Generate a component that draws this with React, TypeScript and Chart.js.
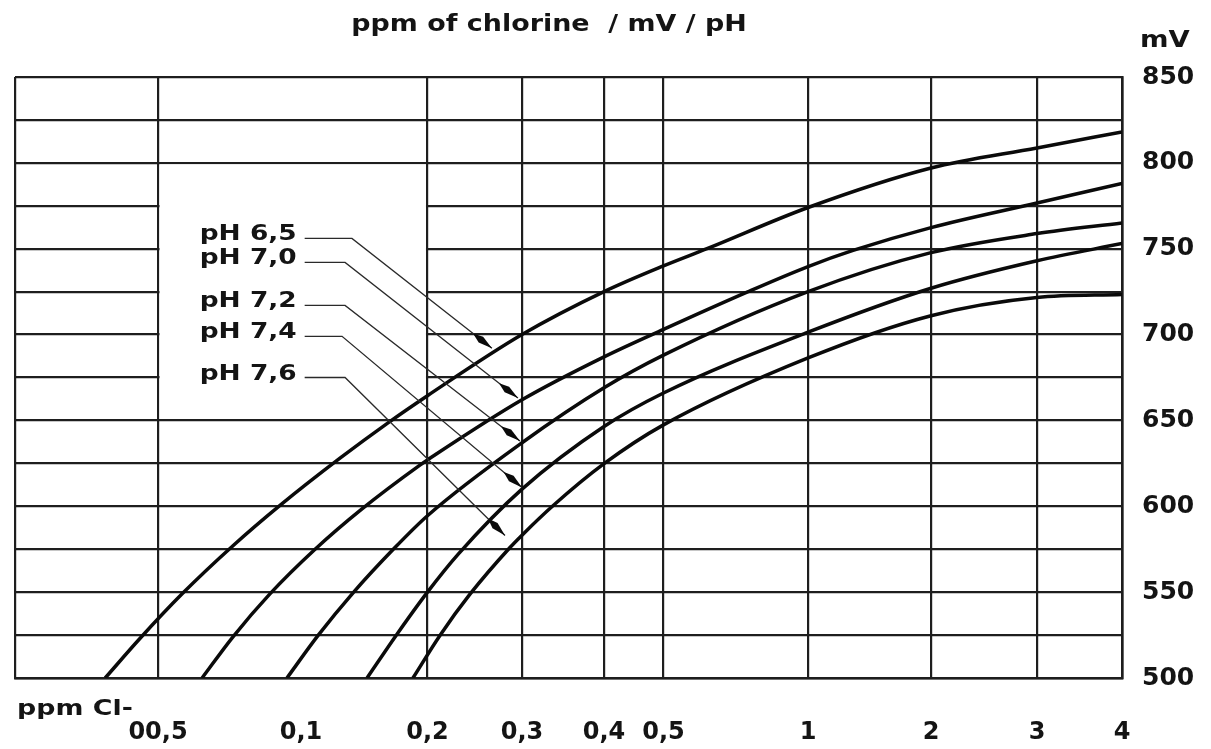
import React, { useEffect, useRef } from 'react';
import { Chart, registerables } from 'chart.js';

Chart.register(...registerables);

// ---------- text ----------
const TITLE = 'ppm of chlorine  / mV / pH';
const Y_UNIT = 'mV';
const X_UNIT = 'ppm Cl-';

// ---------- x axis (hand-drawn, piecewise logarithmic ppm scale) ----------
const X_TICK_PPM = [0.025, 0.05, 0.1, 0.2, 0.3, 0.4, 0.5, 1, 2, 3, 4];
const X_TICK_LABELS = ['', '00,5', '0,1', '0,2', '0,3', '0,4', '0,5', '1', '2', '3', '4'];
const X_TICK_FRACTION = [0, 0.1292, 0.2584, 0.3726, 0.458, 0.5321, 0.5858, 0.7164, 0.8275, 0.9232, 1];
const X_UNGRIDDED_PPM = [0.1];

// ---------- y axis ----------
const Y_MIN = 500;
const Y_MAX = 850;
const Y_GRID_STEP = 25;
const Y_LABEL_STEP = 50;

// ---------- series (ppm of chlorine -> mV) ----------
const SERIES_LABELS = ['pH 6,5', 'pH 7,0', 'pH 7,2', 'pH 7,4', 'pH 7,6'];

const PH65_PPM = [0.0387, 0.0458, 0.0562, 0.0719, 0.0903, 0.1238, 0.1611, 0.2, 0.3, 0.4, 0.5, 0.616, 1, 2, 3, 4];
const PH65_MV = [500, 523, 549, 577, 600.5, 628, 648.6, 664.4, 700, 725, 740, 750, 774, 797, 808.7, 818];

const PH70_PPM = [0.0619, 0.0719, 0.086, 0.108, 0.1397, 0.1919, 0.2, 0.3, 0.4, 0.5, 0.7464, 1, 1.2888, 2, 3, 4];
const PH70_MV = [500, 524, 549, 575, 598.5, 624, 627, 662, 687, 703, 724.7, 739.6, 749, 762.3, 776.6, 788];

const PH72_PPM = [0.0934, 0.1098, 0.133, 0.1656, 0.2, 0.3, 0.4, 0.5, 1, 2, 3, 4];
const PH72_MV = [500, 524.8, 549.6, 574.8, 594.5, 637, 669, 688, 725, 747.7, 758.8, 765];

const PH74_PPM = [0.1436, 0.1692, 0.2, 0.228, 0.3, 0.4, 0.5, 1, 2, 3, 4];
const PH74_MV = [500, 525.5, 550, 572, 610, 646.5, 666, 701.4, 727, 743, 753];

const PH76_PPM = [0.1847, 0.211, 0.24, 0.2849, 0.3, 0.3344, 0.4, 0.5, 1, 2, 3, 4];
const PH76_MV = [500, 524.8, 548.8, 576, 583.2, 600.3, 624.8, 647.4, 686.4, 711, 721.6, 723.3];

// ---------- callout annotations (data coordinates) ----------
const LABEL_MV = [756, 742, 717, 699, 675];
const LEADER_START_PPM = 0.102;
const LEADER_KNEE_PPM = [0.1322, 0.1273, 0.1273, 0.1252, 0.1273];
const ARROW_TIP_PPM = [0.2637, 0.2948, 0.2974, 0.3, 0.2789];
const ARROW_TIP_MV = [692, 663, 638, 611, 583];
const BLANK_BOX_PPM = [0.05, 0.2];
const BLANK_BOX_MV = [800, 650];

// ---------- styles ----------
const FONT = '"DejaVu Sans", "Liberation Sans", sans-serif';
const INK = '#141414';
const GRID = '#1e1e1e';

function warp(ppm: number): number {
  const n = X_TICK_PPM.length;
  let i = 0;
  while (i < n - 2 && ppm > X_TICK_PPM[i + 1]) i++;
  const p0 = X_TICK_PPM[i];
  const p1 = X_TICK_PPM[i + 1];
  const t = Math.log(ppm / p0) / Math.log(p1 / p0);
  return X_TICK_FRACTION[i] + t * (X_TICK_FRACTION[i + 1] - X_TICK_FRACTION[i]);
}

function toPoints(ppm: number[], mv: number[]) {
  return ppm.map((p, i) => ({ x: warp(p), y: mv[i] }));
}

function stretchedText(
  ctx: CanvasRenderingContext2D,
  text: string,
  x: number,
  y: number,
  size: number,
  align: CanvasTextAlign,
  sx: number
) {
  ctx.save();
  ctx.font = `bold ${size}px ${FONT}`;
  ctx.fillStyle = INK;
  ctx.textAlign = align;
  ctx.textBaseline = 'alphabetic';
  ctx.translate(x, y);
  ctx.scale(sx, 1);
  ctx.fillText(text, 0, 0);
  ctx.restore();
}

const decorPlugin = {
  id: 'decor',
  beforeDatasetsDraw(chart: any) {
    const { ctx, scales } = chart;
    const xs = scales.x;
    const ys = scales.y;
    const x1 = xs.getPixelForValue(warp(BLANK_BOX_PPM[0])) + 1.5;
    const x2 = xs.getPixelForValue(warp(BLANK_BOX_PPM[1])) - 1.5;
    const y1 = ys.getPixelForValue(BLANK_BOX_MV[0]) + 1.5;
    const y2 = ys.getPixelForValue(BLANK_BOX_MV[1]) - 1.5;
    ctx.save();
    ctx.fillStyle = '#ffffff';
    ctx.fillRect(x1, y1, x2 - x1, y2 - y1);
    ctx.restore();
  },
  afterDatasetsDraw(chart: any) {
    const { ctx, scales, chartArea } = chart;
    const xs = scales.x;
    const ys = scales.y;
    const xStart = xs.getPixelForValue(warp(LEADER_START_PPM));
    SERIES_LABELS.forEach((label, i) => {
      const y = ys.getPixelForValue(LABEL_MV[i]);
      const xk = xs.getPixelForValue(warp(LEADER_KNEE_PPM[i]));
      const tx = xs.getPixelForValue(warp(ARROW_TIP_PPM[i]));
      const ty = ys.getPixelForValue(ARROW_TIP_MV[i]);
      ctx.save();
      ctx.strokeStyle = '#2a2a2a';
      ctx.lineWidth = 1.3;
      ctx.beginPath();
      ctx.moveTo(xStart, y);
      ctx.lineTo(xk, y);
      ctx.lineTo(tx, ty);
      ctx.stroke();
      const ang = Math.atan2(ty - y, tx - xk);
      const c = Math.cos(ang);
      const s = Math.sin(ang);
      const w = 3.6;
      ctx.fillStyle = '#0a0a0a';
      ctx.beginPath();
      ctx.moveTo(tx, ty);
      ctx.lineTo(tx - 14 * c + w * s, ty - 14 * s - w * c);
      ctx.lineTo(tx - 24 * c, ty - 24 * s);
      ctx.lineTo(tx - 14 * c - w * s, ty - 14 * s + w * c);
      ctx.closePath();
      ctx.fill();
      ctx.restore();
      stretchedText(ctx, label, xStart - 8, y + 2, 22, 'right', 1.2);
    });
    // title and axis units
    stretchedText(ctx, TITLE, 549, 31, 23, 'center', 1.17);
    stretchedText(ctx, Y_UNIT, chartArea.right + 18, chartArea.top - 30, 23, 'left', 1.19);
    stretchedText(ctx, X_UNIT, chartArea.left + 2, chartArea.bottom + 37, 22, 'left', 1.22);
  },
};

export default function App() {
  const canvasRef = useRef<HTMLCanvasElement | null>(null);

  useEffect(() => {
    const canvas = canvasRef.current;
    if (!canvas) return;
    const series = [
      toPoints(PH65_PPM, PH65_MV),
      toPoints(PH70_PPM, PH70_MV),
      toPoints(PH72_PPM, PH72_MV),
      toPoints(PH74_PPM, PH74_MV),
      toPoints(PH76_PPM, PH76_MV),
    ];
    const chart = new Chart(canvas, {
      type: 'line',
      data: {
        datasets: series.map((data, i) => ({
          label: SERIES_LABELS[i],
          data,
          borderColor: '#0a0a0a',
          borderWidth: 3.5,
          pointRadius: 0,
          fill: false,
          cubicInterpolationMode: 'monotone' as const,
        })),
      },
      options: {
        responsive: false,
        animation: false,
        devicePixelRatio: 1,
        layout: { padding: { left: 15, top: 77, right: 0, bottom: 0 } },
        plugins: {
          legend: { display: false },
          tooltip: { enabled: false },
          title: { display: false },
        },
        scales: {
          x: {
            type: 'linear',
            min: 0,
            max: 1,
            afterBuildTicks: (s: any) => {
              s.ticks = X_TICK_PPM.map((p) => ({ value: warp(p) }));
            },
            afterFit: (s: any) => {
              s.height = 71;
              s.paddingLeft = 0;
              s.paddingRight = 0;
            },
            ticks: {
              autoSkip: false,
              maxRotation: 0,
              minRotation: 0,
              padding: 40,
              color: INK,
              font: { family: FONT, size: 24, weight: 'bold' },
              callback: (_v: any, i: number) => X_TICK_LABELS[i],
            },
            grid: {
              color: (c: any) =>
                X_UNGRIDDED_PPM.includes(X_TICK_PPM[c.index]) ? 'rgba(0,0,0,0)' : GRID,
              lineWidth: 2.2,
              drawTicks: false,
            },
            border: { display: true, color: GRID, width: 2.6 },
          },
          y: {
            type: 'linear',
            position: 'right',
            min: Y_MIN,
            max: Y_MAX,
            afterFit: (s: any) => {
              s.width = 89;
            },
            ticks: {
              stepSize: Y_GRID_STEP,
              padding: 20,
              color: INK,
              font: { family: FONT, size: 25, weight: 'bold' },
              callback: (v: any) => (Number(v) % Y_LABEL_STEP === 0 ? String(v) : ''),
            },
            grid: { color: GRID, lineWidth: 2.2, drawTicks: false },
            border: { display: true, color: GRID, width: 2.6 },
          },
        },
      },
      plugins: [decorPlugin],
    } as any);
    return () => chart.destroy();
  }, []);

  return (
    <div
      style={{
        position: 'fixed',
        left: 0,
        top: 0,
        width: 1211,
        height: 749,
        background: '#ffffff',
      }}
    >
      <canvas ref={canvasRef} width={1211} height={749} style={{ display: 'block' }} />
    </div>
  );
}
